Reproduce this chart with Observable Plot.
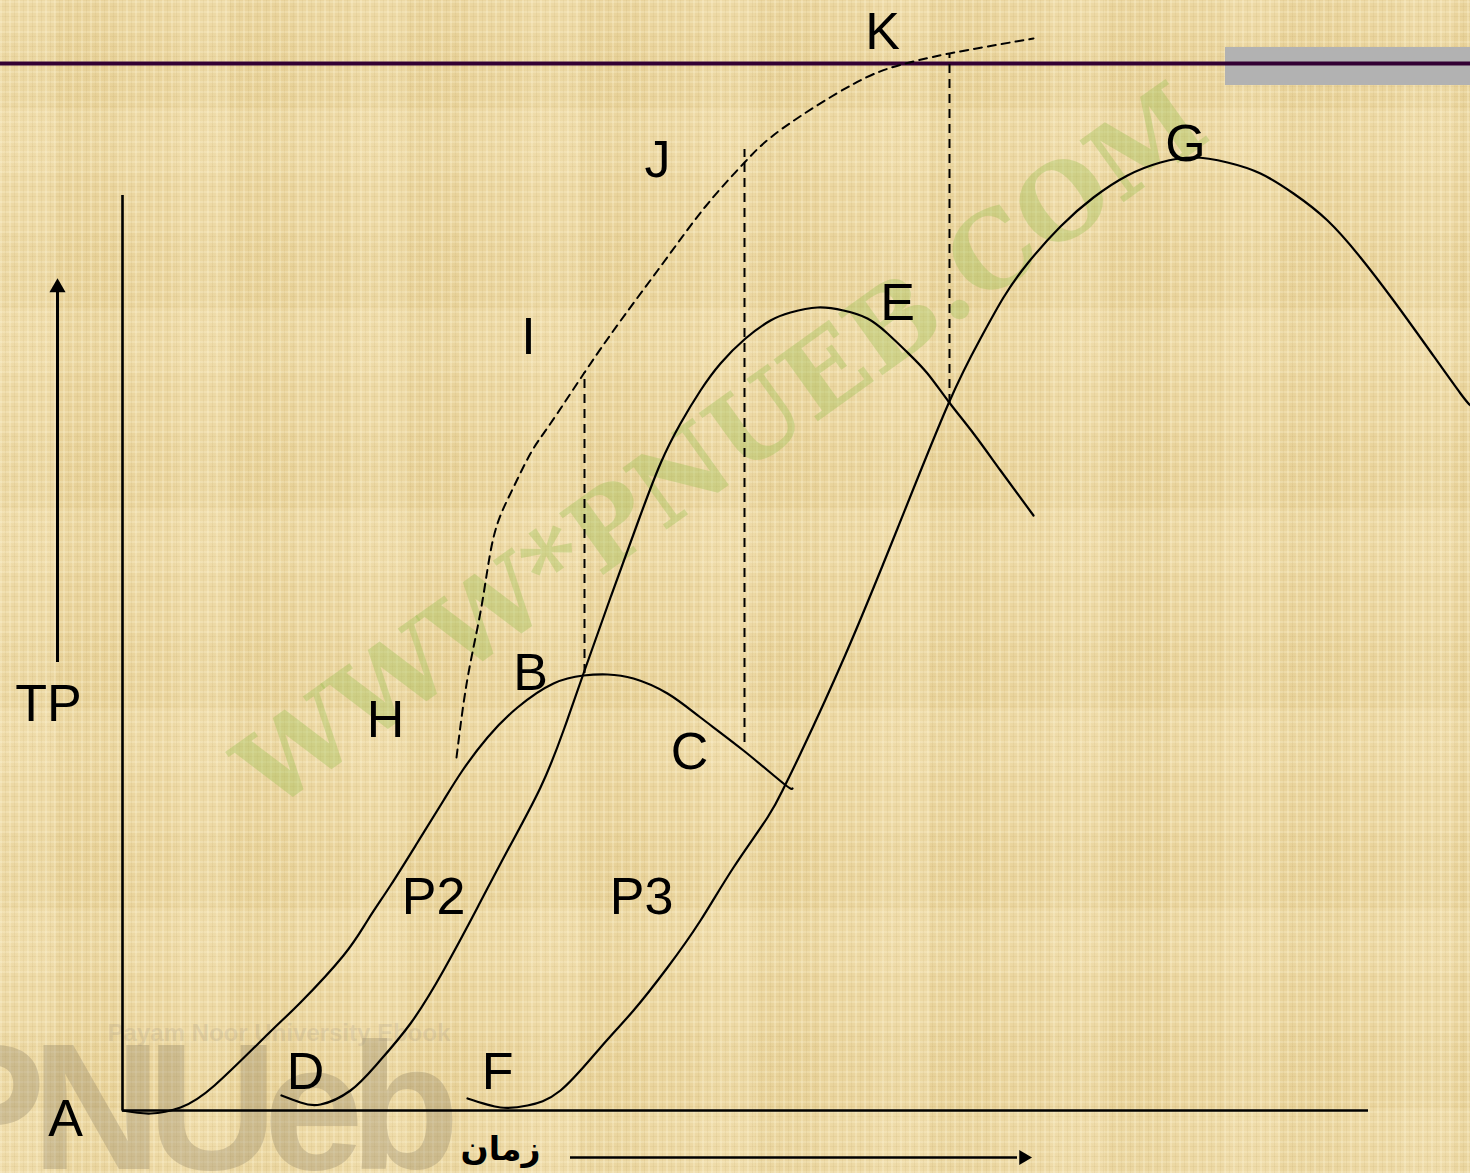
<!DOCTYPE html>
<html>
<head>
<meta charset="utf-8">
<script src="https://cdn.jsdelivr.net/npm/d3@7"></script>
<script src="https://cdn.jsdelivr.net/npm/@observablehq/plot@0.6"></script>
<style>
html, body { margin: 0; padding: 0; }
body {
  width: 1470px; height: 1173px; overflow: hidden;
  background-color: #EBD6A0;
  background-image:
    repeating-linear-gradient(90deg, rgba(255,246,215,0.28) 0 2px, rgba(0,0,0,0) 2px 5px, rgba(170,140,70,0.09) 5px 6px, rgba(0,0,0,0) 6px 9px),
    repeating-linear-gradient(0deg, rgba(255,248,220,0.22) 0 2px, rgba(0,0,0,0) 2px 6px, rgba(160,130,60,0.08) 6px 7px, rgba(0,0,0,0) 7px 10px),
    repeating-linear-gradient(90deg, rgba(255,244,210,0.10) 0 55px, rgba(205,175,95,0.06) 55px 120px, rgba(0,0,0,0) 120px 175px),
    repeating-linear-gradient(0deg, rgba(255,244,210,0.08) 0 65px, rgba(205,175,95,0.05) 65px 140px, rgba(0,0,0,0) 140px 200px);
}
</style>
</head>
<body>
<div id="chart"></div>
<script>
// ---- data (time on x, total product TP on y) ----
const p1Time = [0, 2.8, 5.8, 9.2, 14.6, 17.8, 22.1, 24.5, 26.8, 29.5, 32.1, 34.0, 36.5, 39.5, 43.1, 46.1, 48.5, 51.1, 54.5, 57.8, 62.1, 66.1, 67.0];
const p1TP   = [0, -0.3, 0.3, 2.5, 7.7, 10.8, 15.5, 19.0, 22.5, 26.8, 31.0, 34.0, 37.3, 40.3, 42.7, 43.5, 43.6, 43.2, 41.7, 39.3, 36.0, 32.7, 32.2];

const p2Time = [15.9, 17.8, 19.8, 22.8, 25.5, 28.8, 32.1, 35.5, 38.5, 41.8, 44.1, 46.1, 48.8, 51.6, 53.8, 55.8, 57.8, 59.8, 62.3, 64.8, 66.8, 69.5, 72.1, 74.5, 76.5, 78.5, 80.5, 82.6, 85.1, 87.8, 91.1];
const p2TP   = [1.5, 0.8, 0.6, 2.0, 4.7, 8.7, 14.0, 20.3, 26.0, 32.3, 38.0, 43.7, 51.3, 59.0, 64.7, 68.7, 72.0, 74.7, 77.2, 79.0, 79.8, 80.3, 80.0, 79.2, 77.7, 75.8, 73.7, 70.9, 67.7, 64.0, 59.5];

const p3Time = [34.5, 37.8, 40.5, 43.8, 47.8, 51.1, 54.5, 57.8, 61.1, 64.5, 66.1, 67.8, 72.3, 77.5, 82.6, 85.8, 88.1, 90.5, 93.8, 97.1, 100.5, 103.8, 107.1, 110.5, 113.8, 117.1, 120.5, 123.8, 127.1, 130.5, 133.8, 134.8];
const p3TP   = [1.2, 0.3, 0.5, 2.0, 6.3, 10.0, 14.3, 19.0, 24.3, 29.3, 32.2, 35.7, 45.6, 58.2, 70.7, 77.2, 81.3, 84.7, 88.4, 91.3, 93.5, 94.8, 95.3, 94.8, 93.7, 91.7, 89.0, 85.3, 81.0, 76.3, 71.7, 70.5];

const envTime = [33.4, 34.5, 35.9, 37.1, 38.8, 40.8, 42.8, 46.2, 49.9, 54.1, 58.3, 62.2, 66.0, 73.0, 77.6, 82.7, 91.1];
const envTP   = [35.3, 43.2, 50.4, 57.3, 61.7, 65.7, 68.7, 73.8, 79.1, 84.8, 90.4, 94.8, 98.2, 102.6, 104.5, 105.7, 107.2];

const dropTime   = [46.2, 62.2, 82.7];
const dropBottom = [43.7, 36.8, 70.7];
const dropTop    = [73.8, 96.1, 105.6];

const labelText = ["K", "J", "I", "E", "G", "B", "H", "C", "P2", "P3", "D", "F", "A", "TP"];
const labelTime = [76.0, 53.5, 40.6, 77.5, 106.3, 40.8, 26.3, 56.7, 31.1, 51.9, 18.3, 37.5, -5.7, -7.4];
const labelTP   = [107.8, 95.0, 77.3, 80.7, 96.6, 43.7, 39.0, 35.8, 21.3, 21.3, 3.8, 3.8, -0.9, 40.6];

const axisLabel = ["زمان"];
const axisLabelTime = [37.8];
const axisLabelTP = [-3.9];

// decoration / frame
const xAxisEnd = 124.6;
const yAxisTop = 91.5;
const tpArrow = [{t: -6.5, y1: 44.8, y2: 82.0, headY: 82.3}];
const timeArrow = [{tp: -4.7, x1: 44.8, x2: 89.5, headX: 90.1}];
const topLineTP = 104.7;
const greyBar = [{x1: 110.3, x2: 134.8, y1: 102.5, y2: 106.3}];
const watermark = [{text: "WWW*PNUEB.COM", t: 60.0, tp: 66.2}];
const logo = [{text: "PNUeb", t: -19.7, tp: -0.1}];
const logoSub = [{text: "Payam Noor University Ebook", t: -1.5, tp: 7.7}];

const zip = (ts, ys) => ts.map((t, i) => ({t, tp: ys[i]}));
const p1 = zip(p1Time, p1TP);
const p2 = zip(p2Time, p2TP);
const p3 = zip(p3Time, p3TP);
const env = zip(envTime, envTP);
const drops = dropTime.map((t, i) => ({t, y1: dropBottom[i], y2: dropTop[i]}));
const labels = labelText.map((s, i) => ({s, t: labelTime[i], tp: labelTP[i]}));
const axisLabels = axisLabel.map((s, i) => ({s, t: axisLabelTime[i], tp: axisLabelTP[i]}));

const chart = Plot.plot({
  width: 1470,
  height: 1173,
  margin: 0,
  x: {domain: [-12.2, 134.8], axis: null},
  y: {domain: [-6.3, 111.0], axis: null},
  style: {background: "transparent", fontFamily: "'Liberation Sans', Arial, sans-serif", overflow: "visible"},
  marks: [
    // watermarks
    Plot.text(logo, {x: "t", y: "tp", text: "text", fontSize: 180, fontWeight: "bold", fill: "#8c8064", fillOpacity: 0.32, textAnchor: "start", lineAnchor: "middle"}),
    Plot.text(logoSub, {x: "t", y: "tp", text: "text", fontSize: 24, fontWeight: "bold", fill: "#9a8f80", fillOpacity: 0.2, textAnchor: "start", lineAnchor: "middle"}),
    Plot.text(watermark, {x: "t", y: "tp", text: "text", fontSize: 104, fontWeight: "bold", fill: "#9fbf55", fillOpacity: 0.38, rotate: -35.6, lineAnchor: "middle", fontFamily: "'DejaVu Serif', serif"}),
    // header band
    Plot.rect(greyBar, {x1: "x1", x2: "x2", y1: "y1", y2: "y2", fill: "#b2b2b2"}),
    Plot.ruleY([topLineTP], {stroke: "#330033", strokeWidth: 4}),
    // axes
    Plot.ruleX([0], {y1: 0, y2: yAxisTop, stroke: "black", strokeWidth: 2.6}),
    Plot.ruleY([0], {x1: 0, x2: xAxisEnd, stroke: "black", strokeWidth: 2.6}),
    // dashed drop lines
    Plot.ruleX(drops, {x: "t", y1: "y1", y2: "y2", stroke: "black", strokeWidth: 2, strokeDasharray: "9,6"}),
    // envelope (dashed)
    Plot.line(env, {x: "t", y: "tp", curve: "natural", stroke: "black", strokeWidth: 2, strokeDasharray: "8,6"}),
    // product curves
    Plot.line(p1, {x: "t", y: "tp", curve: "natural", stroke: "black", strokeWidth: 2.2}),
    Plot.line(p2, {x: "t", y: "tp", curve: "natural", stroke: "black", strokeWidth: 2.2}),
    Plot.line(p3, {x: "t", y: "tp", curve: "natural", stroke: "black", strokeWidth: 2.2}),
    // TP arrow
    Plot.ruleX(tpArrow, {x: "t", y1: "y1", y2: "y2", stroke: "black", strokeWidth: 3}),
    Plot.dot(tpArrow, {x: "t", y: "headY", symbol: "triangle", r: 6, fill: "black", stroke: null}),
    // time arrow
    Plot.ruleY(timeArrow, {y: "tp", x1: "x1", x2: "x2", stroke: "black", strokeWidth: 2.6}),
    Plot.dot(timeArrow, {x: "headX", y: "tp", symbol: "triangle", r: 5.5, fill: "black", stroke: null, rotate: 90}),
    // labels
    Plot.text(labels, {x: "t", y: "tp", text: "s", fontSize: 52, fill: "black", lineAnchor: "middle"}),
    Plot.text(axisLabels, {x: "t", y: "tp", text: "s", fontSize: 33, fontWeight: "bold", fill: "black", lineAnchor: "middle", fontFamily: "'DejaVu Sans', sans-serif"})
  ]
});
// tighten the faint logo lettering
chart.querySelectorAll("text").forEach(el => { if (el.textContent === "PNUeb") el.setAttribute("letter-spacing", "-14"); });
document.getElementById("chart").appendChild(chart);
</script>
</body>
</html>
